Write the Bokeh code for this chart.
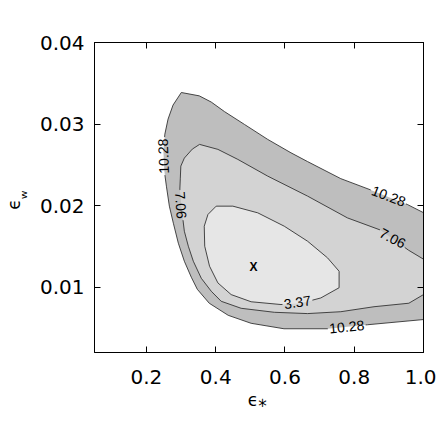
import math
from bokeh.plotting import figure
from bokeh.models import FixedTicker, LinearAxis, Range1d, ColumnDataSource
from bokeh.embed import file_html
from bokeh.resources import INLINE
from bokeh.core.properties import value

# ---------------- data ----------------
x_ticks = [0.2, 0.4, 0.6, 0.8, 1.0]
x_tick_labels = ["0.2", "0.4", "0.6", "0.8", "1.0"]
y_ticks = [0.01, 0.02, 0.03, 0.04]
y_tick_labels = ["0.01", "0.02", "0.03", "0.04"]

level_colors = ["#bebebe", "#d3d3d3", "#e6e6e6"]

# contour 10.28 (open at the right frame edge)
c1028_x = [1.0, 0.953, 0.8475, 0.7612, 0.6653, 0.6173, 0.5502, 0.4829, 0.4253, 0.3871,
           0.3525, 0.3007, 0.2768, 0.2624, 0.2532, 0.2489, 0.2518, 0.2576, 0.2662, 0.2777,
           0.2921, 0.3094, 0.3295, 0.3468, 0.3813, 0.436, 0.5022, 0.5971, 0.7229, 0.838, 1.0]
c1028_y = [0.01914, 0.02015, 0.02193, 0.02331, 0.0254, 0.02648, 0.02812, 0.02996, 0.03153, 0.0327,
           0.03346, 0.03387, 0.03233, 0.03061, 0.02877, 0.02669, 0.02423, 0.02239, 0.01994, 0.01785,
           0.0154, 0.01319, 0.01123, 0.00975, 0.00804, 0.00656, 0.00558, 0.00491, 0.00491, 0.0054, 0.00604]

# contour 7.06 (open at the right frame edge)
c706_x = [1.0, 0.9568, 0.8763, 0.7804, 0.6653, 0.5502, 0.4639, 0.4063, 0.3534, 0.3324,
          0.3094, 0.2993, 0.2978, 0.2964, 0.3007, 0.3094, 0.3209, 0.3353, 0.3583, 0.3871,
          0.4158, 0.4734, 0.5692, 0.6653, 0.7612, 0.857, 0.9577, 1.0]
c706_y = [0.01344, 0.01454, 0.017, 0.0185, 0.02117, 0.02362, 0.02567, 0.0269, 0.02751, 0.02693,
          0.02583, 0.02485, 0.02337, 0.02202, 0.01994, 0.01687, 0.01503, 0.01319, 0.0111, 0.00951,
          0.00828, 0.00742, 0.00693, 0.00677, 0.007, 0.00761, 0.00804, 0.0091]

# contour 3.37 (closed)
c337_x = [0.4014, 0.4495, 0.5214, 0.598, 0.6653, 0.7229, 0.7563, 0.7563, 0.7036, 0.646,
          0.5885, 0.5022, 0.4446, 0.4063, 0.3822, 0.3683, 0.3669, 0.3776]
c337_y = [0.01994, 0.01994, 0.01912, 0.01748, 0.01564, 0.0136, 0.01196, 0.00994, 0.00869, 0.00804,
          0.00788, 0.00822, 0.0091, 0.01053, 0.01258, 0.01503, 0.01748, 0.01892]

# contour labels
lab_text = ["10.28", "7.06", "10.28", "7.06", "3.37", "10.28"]
lab_x = [0.2489, 0.2993, 0.8993, 0.9108, 0.636, 0.7784]
lab_y = [0.02607, 0.02006, 0.02117, 0.01601, 0.00816, 0.00515]
lab_angle = [92, -86, -21, -28, 9, 5.7]

# best fit
best_x = [0.5094]
best_y = [0.01252]

# ---------------- figure ----------------
X0, X1, Y0, Y1 = 0.05, 1.0, 0.002, 0.04
FW, FH = 330, 310
SX = FW / (X1 - X0)
SY = FH / (Y1 - Y0)

p = figure(width=436, height=436, x_range=Range1d(X0, X1), y_range=Range1d(Y0, Y1),
           output_backend="svg", toolbar_location=None,
           min_border_left=93, min_border_right=13, min_border_top=42, min_border_bottom=84)
p.grid.visible = False
p.outline_line_color = "black"
p.outline_line_width = 1
p.background_fill_color = "white"
p.border_fill_color = "white"

TICK_FONT = "DejaVu Sans"


def style_axis(ax, ticks, labels, show_labels, standoff):
    ax.ticker = FixedTicker(ticks=ticks)
    ax.major_label_overrides = {t: l for t, l in zip(ticks, labels)}
    ax.major_tick_in = 6
    ax.major_tick_out = 0
    ax.major_tick_line_color = "black"
    ax.minor_tick_line_color = None
    ax.axis_line_color = "black"
    ax.major_label_standoff = standoff
    ax.major_label_text_font = TICK_FONT
    ax.major_label_text_font_size = "20px" if show_labels else "0px"
    ax.major_label_text_color = "black"


def style_title(ax, text, line_height, standoff):
    ax.axis_label = text
    ax.axis_label_text_font = "DejaVu Sans"
    ax.axis_label_text_font_size = "17px"
    ax.axis_label_text_font_style = "normal"
    ax.axis_label_text_color = "black"
    ax.axis_label_text_line_height = line_height
    ax.axis_label_standoff = standoff


xax = p.below[0]
yax = p.left[0]
style_axis(xax, x_ticks, x_tick_labels, True, 17)
style_axis(yax, y_ticks, y_tick_labels, True, 10)

# axis titles: epsilon with subscripts
style_title(xax, "ϵ⁎\u2009", 1.2, 3)
style_title(yax, "ϵ\u00a0\u00a0\u2009\n\u00a0ʷ", 0.66, 0)

ax_r = LinearAxis()
style_axis(ax_r, y_ticks, ["" for _ in y_ticks], False, 0)
p.add_layout(ax_r, "right")
ax_t = LinearAxis()
style_axis(ax_t, x_ticks, ["" for _ in x_ticks], False, 0)
p.add_layout(ax_t, "above")

# filled regions
for (cx, cy), col in zip([(c1028_x, c1028_y), (c706_x, c706_y), (c337_x, c337_y)], level_colors):
    p.patch(cx, cy, fill_color=col, line_color=None)

# contour lines with gaps under the labels
LAB_FS = 14
boxes = []
for t, x, y, a in zip(lab_text, lab_x, lab_y, lab_angle):
    w = len(t.replace(".", "")) * 0.556 * LAB_FS + t.count(".") * 0.278 * LAB_FS
    boxes.append((x * SX, y * SY, math.radians(a), w / 2 + 1.5, 5.5))


def box_interval(p0, p1, b):
    cx, cy, ang, hw, hh = b
    c, s = math.cos(ang), math.sin(ang)

    def loc(pt):
        dx, dy = pt[0] - cx, pt[1] - cy
        return dx * c + dy * s, -dx * s + dy * c
    u0, v0 = loc(p0)
    u1, v1 = loc(p1)
    t0, t1 = 0.0, 1.0
    for q0, dq, lim in ((u0, u1 - u0, hw), (v0, v1 - v0, hh)):
        if abs(dq) < 1e-12:
            if abs(q0) > lim:
                return None
        else:
            ta, tb = (-lim - q0) / dq, (lim - q0) / dq
            if ta > tb:
                ta, tb = tb, ta
            t0, t1 = max(t0, ta), min(t1, tb)
            if t0 >= t1:
                return None
    return (t0, t1)


def split_line(xs, ys):
    pts = [(x * SX, y * SY) for x, y in zip(xs, ys)]
    lines, cur = [], None
    for i in range(len(pts) - 1):
        p0, p1 = pts[i], pts[i + 1]
        cuts = sorted(c for c in (box_interval(p0, p1, b) for b in boxes) if c)
        vis, t = [], 0.0
        for a, b in cuts:
            if a > t:
                vis.append((t, a))
            t = max(t, b)
        if t < 1.0:
            vis.append((t, 1.0))

        def at(tt):
            return (p0[0] + tt * (p1[0] - p0[0]), p0[1] + tt * (p1[1] - p0[1]))
        for a, b in vis:
            if a == 0.0 and cur is not None:
                cur.append(at(b))
            else:
                cur = [at(a), at(b)]
                lines.append(cur)
        if not (vis and vis[-1][1] == 1.0):
            cur = None
    return ([[q[0] / SX for q in l] for l in lines], [[q[1] / SY for q in l] for l in lines])


mx, my = [], []
for cx, cy in [(c1028_x, c1028_y), (c706_x, c706_y), (c337_x + c337_x[:1], c337_y + c337_y[:1])]:
    lx, ly = split_line(cx, cy)
    mx += lx
    my += ly
p.multi_line(mx, my, line_color="#333333", line_width=0.9)

src = ColumnDataSource(dict(x=lab_x, y=lab_y, text=lab_text, angle=lab_angle))
p.text(x="x", y="y", text="text", angle="angle", angle_units="deg", source=src,
       text_align="center", text_baseline="middle", text_font=value("Liberation Sans"),
       text_font_size=f"{LAB_FS}px", text_color="black")

p.text(x=best_x, y=best_y, text=["X"], text_align="center", text_baseline="middle",
       text_font=value("Liberation Sans"), text_font_size="12px", text_font_style="bold",
       text_color="black")

open("out.html", "w").write(file_html(p, INLINE))
